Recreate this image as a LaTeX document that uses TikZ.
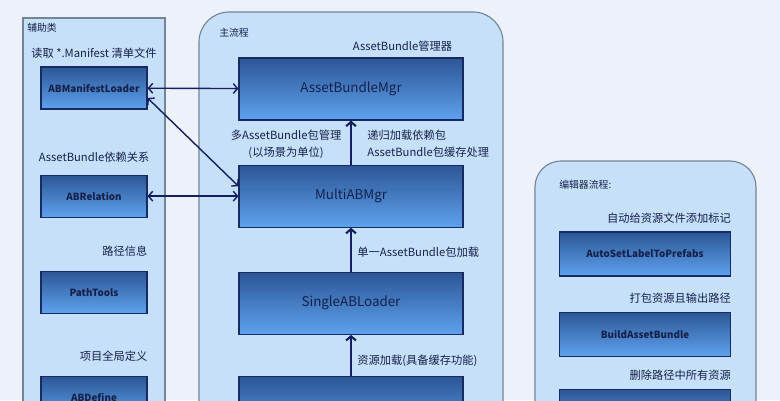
\documentclass[tikz,border=0pt]{standalone}
\usepackage{fontspec}
\setmainfont{Noto Sans CJK SC}
\usetikzlibrary{positioning, arrows.meta}
\definecolor{pagebg}{RGB}{237,241,249}
\definecolor{panelfill}{RGB}{198,224,250}
\definecolor{paneledge}{RGB}{118,132,152}
\definecolor{boxtop}{RGB}{44,86,150}
\definecolor{boxbot}{RGB}{94,162,238}
\definecolor{boxedge}{RGB}{24,42,96}
\definecolor{ink}{RGB}{22,32,72}
\definecolor{navy}{RGB}{22,30,98}

\begin{document}
\begin{tikzpicture}[x=0.025cm, y=-0.025cm, >={Straight Barb[length=3pt,width=7pt]},
    panel/.style={draw=paneledge, fill=panelfill, line width=0.8pt},
    cls/.style={draw=boxedge, line width=0.8pt, top color=boxtop, bottom color=boxbot, text=ink,
      font=\bfseries\fontsize{7}{8}\selectfont, minimum width=2.65cm, minimum height=1.05cm, inner sep=0pt},
    flow/.style={cls, font=\fontsize{9.5}{11}\selectfont, minimum width=5.6cm, minimum height=1.55cm},
    tool/.style={cls, minimum width=4.275cm, minimum height=1.1cm},
    note/.style={text=ink, font=\fontsize{8}{12}\selectfont, inner sep=0pt},
    title/.style={text=ink, font=\fontsize{7}{8}\selectfont, inner sep=0pt, anchor=west},
    link/.style={<->, navy, line width=1pt},
    up/.style={->, navy, line width=1.5pt}]
  \fill[pagebg] (0,0) rectangle (780,400);
  \useasboundingbox (0,0) rectangle (780,400);
  \clip (0,0) rectangle (780,400);

  % panels
  \draw[panel] (23,18) rectangle (165,430);
  \draw[panel, rounded corners=0.75cm] (199,12) rectangle (503,460);
  \draw[panel, rounded corners=0.65cm] (535,161) rectangle (756,460);

  % helper classes
  \node[title] (aux) at (27,28) {辅助类};
  \node[cls] (mfl) at (94,88) {ABManifestLoader};
  \node[cls] (abr) [below=1.625cm of mfl] {ABRelation};
  \node[cls] (pt) [below=1.325cm of abr] {PathTools};
  \node[cls] (abd) [below=1.55cm of pt] {ABDefine};
  \node[note] (mfl-l) [above=0.2cm of mfl] {读取 *.Manifest 清单文件};
  \node[note] (abr-l) [above=0.3cm of abr] {AssetBundle依赖关系};
  \node[note] (pt-l) [above left=0.35cm and 0cm of pt.north east] {路径信息};
  \node[note] (abd-l) [above left=0.35cm and 0cm of abd.north east] {项目全局定义};

  % main flow
  \node[title] (main) at (219,33) {主流程};
  \node[flow] (abm) at (351,89) {AssetBundleMgr};
  \node[flow] (mam) [below=1.1cm of abm] {MultiABMgr};
  \node[flow] (sal) [below=1.1cm of mam] {SingleABLoader};
  \node[flow] (res) [below=1.025cm of sal] {};
  \node[note] (abm-l) [above left=0.15cm and 0.28cm of abm.north east] {AssetBundle管理器};
  \node[note, align=center] (mam-l) at (286,144) {多AssetBundle包管理\\(以场景为单位)};
  \node[note, align=left, anchor=west] (mam-r) at (367,144) {递归加载依赖包\\AssetBundle包缓存处理};
  \node[note, anchor=west] (sal-r) at (357,252) {单一AssetBundle包加载};
  \node[note, anchor=west] (res-r) at (357,361) {资源加载(具备缓存功能)};

  \draw[up] (mam) -- (abm);
  \draw[up] (sal) -- (mam);
  \draw[up] (res) -- (sal);

  \draw[link] (mfl) -- (abm);
  \draw[link] ([yshift=-0.25cm]mfl.east) -- ([yshift=0.25cm]mam.west);
  \draw[link] (abr) -- (mam);

  % editor flow
  \node[title] (edit) at (559,185) {编辑器流程:};
  \node[tool] (auto) at (645,254) {AutoSetLabelToPrefabs};
  \node[tool] (bab) [below=0.875cm of auto] {BuildAssetBundle};
  \node[tool] (del) [below=0.8cm of bab] {};
  \node[note] (auto-l) [above left=0.2cm and 0cm of auto.north east] {自动给资源文件添加标记};
  \node[note] (bab-l) [above left=0.2cm and 0cm of bab.north east] {打包资源且输出路径};
  \node[note] (del-l) [above left=0.2cm and 0cm of del.north east] {删除路径中所有资源};
\end{tikzpicture}
\end{document}
